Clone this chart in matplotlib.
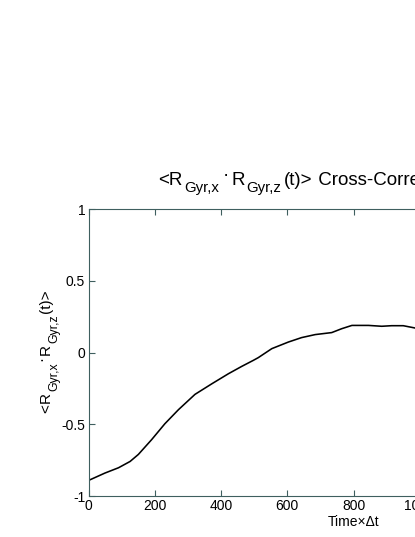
import matplotlib
matplotlib.use("Agg")
import matplotlib.pyplot as plt

plt.rcParams['font.family'] = ['Liberation Sans', 'DejaVu Sans']
plt.rcParams['axes.unicode_minus'] = False

# data
time = [0, 49, 90, 125, 150, 190, 230, 271, 321, 372, 422, 462, 497, 512, 553,
        603, 643, 684, 734, 764, 795, 845, 885, 915, 950, 981, 1000]
corr = [-0.891, -0.840, -0.803, -0.759, -0.710, -0.607, -0.496, -0.398, -0.291,
        -0.217, -0.147, -0.096, -0.054, -0.035, 0.028, 0.074, 0.105, 0.126, 0.140,
        0.167, 0.190, 0.190, 0.184, 0.188, 0.188, 0.174, 0.165]
xticks = [0, 200, 400, 600, 800, 1000, 1200, 1400, 1600]
yticks = [-1, -0.5, 0, 0.5, 1]
yticklabels = ['-1', '-0.5', '0', '0.5', '1']

# rich-text pieces: (text, size factor, baseline shift in em, gap after in em)
title_pieces = [('<R', 1.0, 0.0, 0.1), ('Gyr,x', 0.8, -0.38, 0.2),
                ('\u00b7', 1.0, 0.28, 0.1), ('R', 1.0, 0.0, 0.1),
                ('Gyr,z', 0.8, -0.38, 0.15), ('(t)>', 1.0, 0.0, 0.0)]
title_tail = ' Cross-Correlation'
ylabel_pieces = [('<', 1.0, 0.0, 0.06), ('R', 1.0, 0.0, 0.08),
                 ('Gyr,x', 0.8, -0.45, 0.08), ('\u00b7', 1.0, 0.28, 0.05),
                 ('R', 1.0, 0.0, 0.08), ('Gyr,z', 0.8, -0.45, 0.1),
                 ('(t)>', 1.0, 0.0, 0.0)]

W, H = 415, 537
fig = plt.figure(figsize=(W / 100, H / 100), dpi=100)
fig.patch.set_facecolor('white')

ax_left, ax_right, ax_top, ax_bottom = 88.7, 618.5, 209.3, 496.0
ax = fig.add_axes([ax_left / W, 1 - ax_bottom / H,
                   (ax_right - ax_left) / W, (ax_bottom - ax_top) / H])

ax.plot(time, corr, color='black', lw=1.15)
ax.set_xlim(0, 1600)
ax.set_ylim(-1, 1)
ax.set_xticks(xticks)
ax.set_xticklabels([str(v) for v in xticks])
ax.set_yticks(yticks)
ax.set_yticklabels(yticklabels)

spine_col = '#3f5f5f'
for s in ax.spines.values():
    s.set_color(spine_col)
    s.set_linewidth(0.8)
ax.tick_params(direction='in', length=4, width=0.8, color=spine_col,
               labelcolor='black', labelsize=10, top=True, right=True, pad=2.5)

ax.set_xlabel('Time\u00d7\u0394t', fontsize=10, labelpad=1)

renderer = fig.canvas.get_renderer()


def rich_text(x0, y0, pieces, fs, vertical=False):
    """Place pieces one after another starting at pixel (x0, y0) (y from top)."""
    em = fs * 100 / 72.0
    pos = x0 if not vertical else y0
    for txt, sc, shift, gap in pieces:
        if vertical:
            t = fig.text((x0 - shift * em) / W, 1 - pos / H, txt,
                         fontsize=fs * sc, rotation=90, rotation_mode='anchor',
                         ha='left', va='baseline')
            bb = t.get_window_extent(renderer)
            pos -= bb.height + gap * em
        else:
            t = fig.text(pos / W, 1 - (y0 - shift * em) / H, txt,
                         fontsize=fs * sc, ha='left', va='baseline')
            bb = t.get_window_extent(renderer)
            pos += bb.width + gap * em
    return pos


# title
end = rich_text(158, 185, title_pieces, 13.5)
fig.text(end / W, 1 - 185 / H, title_tail, fontsize=13.5, ha='left', va='baseline')

# y label (vertical, reading bottom to top)
rich_text(50, 413, ylabel_pieces, 11, vertical=True)

fig.savefig('out.png', dpi=100)
